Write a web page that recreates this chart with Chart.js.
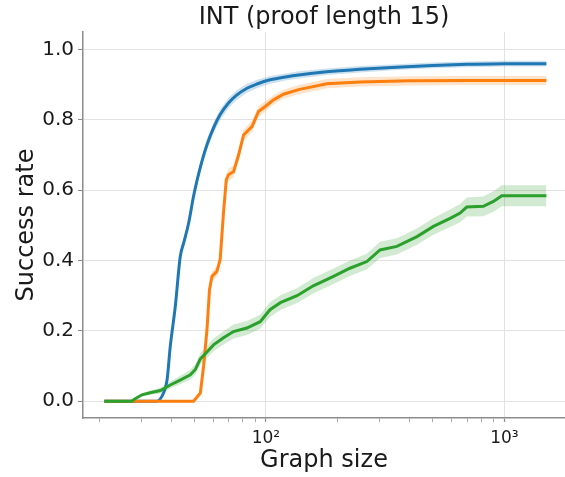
<!DOCTYPE html>
<html>
<head>
<meta charset="utf-8">
<script src="https://cdn.jsdelivr.net/npm/chart.js@4.4.1/dist/chart.umd.min.js"></script>
<style>
  body { margin: 0; background: #fff; }
  canvas { display: block; }
</style>
</head>
<body>
<canvas id="chart" width="565" height="477"></canvas>
<script>
// values (x = graph size, y = success rate)
const blueX = [21, 34.9, 37.2, 38.5, 39.7, 41.7, 43.7, 45.2, 47.4, 49.7, 51.4, 53.9, 56.6, 60.3, 64.3, 69.7, 75.6, 83.3, 91.7, 104.2, 122.4, 137, 180, 248, 352, 500, 700, 1000, 1500];
const blueY = [0, 0, 0.023, 0.06, 0.155, 0.27, 0.41, 0.45, 0.506, 0.582, 0.627, 0.682, 0.729, 0.777, 0.815, 0.848, 0.871, 0.89, 0.902, 0.914, 0.923, 0.928, 0.937, 0.944, 0.95, 0.955, 0.958, 0.96, 0.96];
const blueSpread = [0, 0, 0.004, 0.006, 0.007, 0.008, 0.01, 0.01, 0.011, 0.012, 0.013, 0.014, 0.015, 0.015, 0.015, 0.015, 0.014, 0.013, 0.012, 0.011, 0.01, 0.01, 0.009, 0.009, 0.008, 0.008, 0.008, 0.008, 0.008];

const orangeX = [21, 49.7, 53.1, 54.8, 56.6, 58.0, 59.4, 62.3, 64.3, 66.4, 68.2, 69.7, 73.2, 76.8, 80.6, 87.4, 93.1, 99.3, 107.6, 118.5, 137, 180, 248, 400, 700, 1000, 1500];
const orangeY = [0, 0, 0.023, 0.1, 0.203, 0.317, 0.355, 0.369, 0.403, 0.536, 0.63, 0.644, 0.653, 0.70, 0.757, 0.781, 0.824, 0.838, 0.857, 0.873, 0.886, 0.903, 0.908, 0.911, 0.912, 0.912, 0.912];
const orangeSpread = [0, 0, 0.004, 0.008, 0.01, 0.012, 0.014, 0.015, 0.016, 0.017, 0.017, 0.017, 0.017, 0.017, 0.016, 0.016, 0.015, 0.014, 0.013, 0.013, 0.013, 0.013, 0.013, 0.013, 0.013, 0.013, 0.013];

const greenX = [21, 27.4, 28.3, 30.2, 32.7, 36.1, 39.7, 43.7, 48.2, 50.6, 53.1, 56.6, 60.3, 66.4, 73.1, 83.2, 94.6, 104, 115, 135, 158, 192, 225, 265, 301, 354, 430, 504, 592, 652, 695, 816, 899, 975, 1500];
const greenY = [0, 0, 0.007, 0.018, 0.024, 0.03, 0.046, 0.06, 0.075, 0.09, 0.12, 0.14, 0.16, 0.18, 0.198, 0.208, 0.226, 0.26, 0.28, 0.30, 0.328, 0.355, 0.378, 0.397, 0.43, 0.44, 0.468, 0.497, 0.52, 0.535, 0.552, 0.554, 0.568, 0.584, 0.584];
const greenSpread = [0, 0, 0.002, 0.004, 0.006, 0.008, 0.01, 0.012, 0.014, 0.015, 0.016, 0.017, 0.018, 0.019, 0.02, 0.02, 0.02, 0.021, 0.021, 0.021, 0.022, 0.022, 0.022, 0.022, 0.023, 0.023, 0.023, 0.024, 0.025, 0.026, 0.027, 0.028, 0.029, 0.03, 0.03];

const xTicks = [20, 30, 40, 50, 60, 70, 80, 90, 100, 200, 300, 400, 500, 600, 700, 800, 900, 1000];
const yTicks = [0, 0.2, 0.4, 0.6, 0.8, 1.0];

function pts(xs, ys, off, sign) {
    return xs.map((x, i) => ({ x: x, y: ys[i] + (off ? sign * off[i] : 0) }));
}

function band(xs, ys, spread, color) {
    return [
        { data: pts(xs, ys, spread, 1), borderWidth: 0, pointRadius: 0, fill: false, order: 10 },
        { data: pts(xs, ys, spread, -1), borderWidth: 0, pointRadius: 0, fill: '-1', backgroundColor: color, order: 10 }
    ];
}

function line(xs, ys, color, smooth) {
    return {
        data: pts(xs, ys), borderColor: color, borderWidth: 3, pointRadius: 0, fill: false,
        cubicInterpolationMode: smooth ? 'monotone' : 'default', order: 1
    };
}

const FONT = 'DejaVu Sans';

new Chart(document.getElementById('chart'), {
    type: 'line',
    data: {
        datasets: [
            ...band(greenX, greenY, greenSpread, 'rgba(44,160,44,0.22)'),
            ...band(orangeX, orangeY, orangeSpread, 'rgba(255,127,14,0.22)'),
            ...band(blueX, blueY, blueSpread, 'rgba(31,119,180,0.22)'),
            line(greenX, greenY, '#2ca02c', false),
            line(orangeX, orangeY, '#ff7f0e', false),
            line(blueX, blueY, '#1f77b4', true)
        ]
    },
    options: {
        responsive: false,
        animation: false,
        layout: { padding: 0 },
        plugins: {
            legend: { display: false },
            tooltip: { enabled: false },
            title: {
                display: true,
                text: 'INT (proof length 15)',
                fullSize: false,
                color: '#1a1a1a',
                font: { family: FONT, size: 24, weight: 'normal' },
                padding: { top: 3.2, bottom: 0 }
            }
        },
        scales: {
            x: {
                type: 'logarithmic',
                min: 17.1,
                max: 1795,
                afterFit: s => { s.height = 59; },
                afterBuildTicks: s => { s.ticks = xTicks.map(v => ({ value: v })); },
                border: { display: true, color: '#8c8c8c', width: 1.5 },
                grid: {
                    color: c => (c.tick && (c.tick.value === 100 || c.tick.value === 1000)) ? '#e2e2e2' : 'rgba(0,0,0,0)',
                    tickColor: '#8c8c8c',
                    tickWidth: c => (c.tick && (c.tick.value === 100 || c.tick.value === 1000)) ? 1.2 : 0.8,
                    tickLength: 4,
                    lineWidth: 1
                },
                ticks: {
                    autoSkip: false,
                    maxRotation: 0,
                    padding: 6,
                    color: '#1a1a1a',
                    font: { family: FONT, size: 17 },
                    callback: v => v === 100 ? '10²' : (v === 1000 ? '10³' : '')
                },
                title: {
                    display: true,
                    text: 'Graph size',
                    color: '#1a1a1a',
                    font: { family: FONT, size: 24 },
                    padding: { top: 0, bottom: 2 }
                }
            },
            y: {
                type: 'linear',
                min: -0.048,
                max: 1.05,
                afterFit: s => { s.width = 83; },
                afterBuildTicks: s => { s.ticks = yTicks.map(v => ({ value: v })); },
                border: { display: true, color: '#8c8c8c', width: 1.5 },
                grid: {
                    color: '#e2e2e2',
                    tickColor: '#8c8c8c',
                    tickLength: 5,
                    lineWidth: 1
                },
                ticks: {
                    padding: 4,
                    color: '#1a1a1a',
                    font: { family: FONT, size: 20 },
                    callback: v => v.toFixed(1)
                },
                title: {
                    display: true,
                    text: 'Success rate',
                    color: '#1a1a1a',
                    font: { family: FONT, size: 24 },
                    padding: { top: 12, bottom: 0 }
                }
            }
        }
    }
});
</script>
</body>
</html>
